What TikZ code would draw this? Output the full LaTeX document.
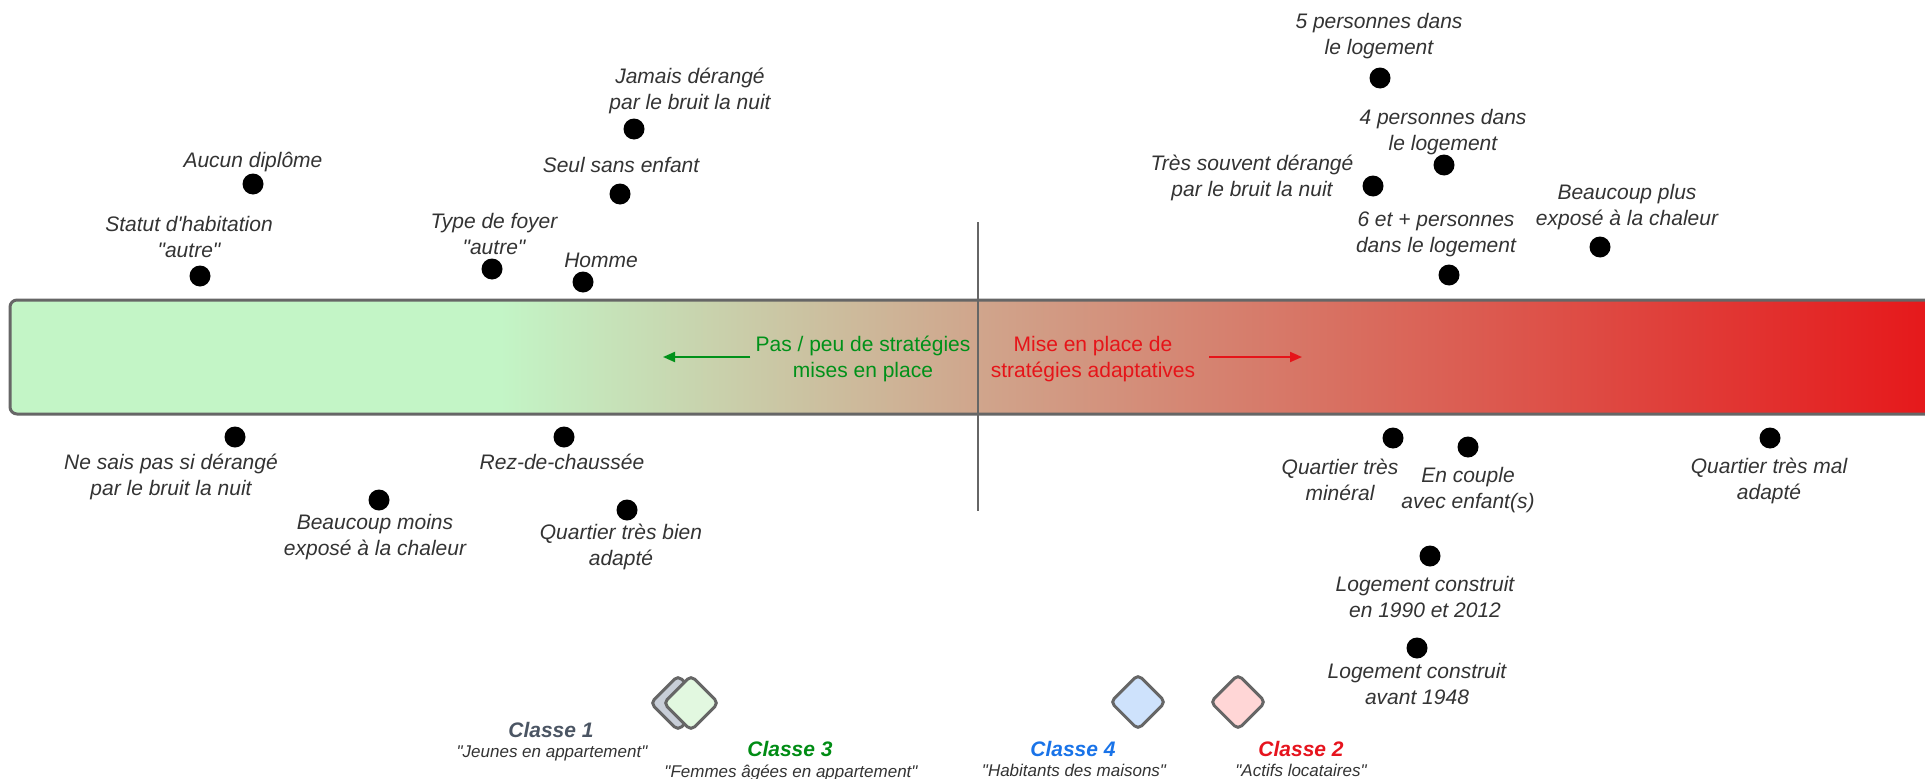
\documentclass[tikz,border=0pt]{standalone}
\usepackage{fontspec}
\setmainfont{Liberation Sans}
\usetikzlibrary{shapes.geometric,arrows.meta}
\definecolor{labelgray}{RGB}{51,51,51}
\definecolor{edgegray}{RGB}{102,102,102}
\definecolor{barg}{RGB}{195,245,198}
\definecolor{barmid}{RGB}{208,165,140}
\definecolor{barr}{RGB}{230,22,25}
\definecolor{txtgreen}{RGB}{0,145,25}
\definecolor{txtred}{RGB}{230,20,25}
\definecolor{c1text}{RGB}{75,85,99}
\definecolor{c3text}{RGB}{0,140,20}
\definecolor{c4text}{RGB}{25,115,232}
\definecolor{c2text}{RGB}{230,20,30}
\definecolor{c1fill}{RGB}{200,206,216}
\definecolor{c3fill}{RGB}{226,248,224}
\definecolor{c4fill}{RGB}{206,226,252}
\definecolor{c2fill}{RGB}{255,214,214}
\newcommand{\dq}{\textquotedbl}
\begin{document}
\begin{tikzpicture}[x=1pt,y=-1pt,
  lbl/.style={font=\itshape\fontsize{21}{26}\selectfont, text=labelgray, align=center, inner sep=0pt, yshift=-1.5pt},
  dotnode/.style={circle, fill=black, minimum size=21pt, inner sep=0pt},
  ctitle/.style={font=\bfseries\itshape\fontsize{21}{26}\selectfont, inner sep=0pt, yshift=-1.5pt},
  csub/.style={font=\itshape\fontsize{17}{20}\selectfont, text=labelgray, inner sep=0pt, yshift=-2.5pt},
  clsbox/.style={diamond, draw=edgegray, line width=3pt, rounded corners=5pt, minimum size=56pt, inner sep=0pt},
  bartext/.style={font=\fontsize{21}{26}\selectfont, align=center, inner sep=0pt, yshift=-1pt},
  axisline/.style={draw=edgegray, line width=2.5pt},
  dirarrow/.style={line width=2pt, -{Triangle[length=12pt,width=10pt]}}
]
\useasboundingbox (0,0) rectangle (1925,779);
\clip (0,0) rectangle (1925,779);

% gradient bar
\begin{scope}
  \clip[rounded corners=7pt] (10,300) rectangle (1945,414);
  \fill[barg] (0,290) rectangle (501,420);
  \shade[left color=barg, right color=barmid] (500,290) rectangle (979,420);
  \shade[left color=barmid, right color=barr] (978,290) rectangle (1945,420);
\end{scope}
\draw[edgegray, line width=3pt, rounded corners=7pt] (10,300) rectangle (1945,414);

% central axis
\coordinate (axtop) at (978,222);
\coordinate (axbot) at (978,511);
\draw[axisline] (axtop) -- (axbot);

% bar texts and arrows
\node[bartext, text=txtgreen] (peu) at (863,358) {Pas / peu de stratégies\\mises en place};
\node[bartext, text=txtred] (mise) at (1093,358) {Mise en place de\\stratégies adaptatives};
\coordinate (gs) at (750,357);
\coordinate (ge) at (663,357);
\coordinate (rs) at (1209,357);
\coordinate (re) at (1302,357);
\draw[dirarrow, draw=txtgreen, fill=txtgreen] (gs) -- (ge);
\draw[dirarrow, draw=txtred, fill=txtred] (rs) -- (re);

% labels above bar
\node[lbl] (l1) at (253,161) {Aucun diplôme};
\node[dotnode] (d1) at (253,184) {};
\node[lbl] (l2) at (189,235) {Statut d\textquotesingle habitation\\\dq autre\dq};
\node[dotnode] (d2) at (200,276) {};
\node[lbl] (l3) at (494,232) {Type de foyer\\\dq autre\dq};
\node[dotnode] (d3) at (492,269) {};
\node[lbl] (l4) at (601,259) {Homme};
\node[dotnode] (d4) at (583,282) {};
\node[lbl] (l5) at (621,163) {Seul sans enfant};
\node[dotnode] (d5) at (620,194) {};
\node[lbl] (l6) at (690,89) {Jamais dérangé\\par le bruit la nuit};
\node[dotnode] (d6) at (634,129) {};
\node[lbl] (l7) at (1379,35) {5 personnes dans\\le logement};
\node[dotnode] (d7) at (1380,78) {};
\node[lbl] (l8) at (1443,131) {4 personnes dans\\le logement};
\node[dotnode] (d8) at (1444,165) {};
\node[lbl] (l9) at (1252,176) {Très souvent dérangé\\par le bruit la nuit};
\node[dotnode] (d9) at (1373,186) {};
\node[lbl] (l10) at (1436,233) {6 et + personnes\\dans le logement};
\node[dotnode] (d10) at (1449,275) {};
\node[lbl] (l11) at (1627,206) {Beaucoup plus\\exposé à la chaleur};
\node[dotnode] (d11) at (1600,247) {};

% labels below bar
\node[dotnode] (d12) at (235,437) {};
\node[lbl] (l12) at (171,475) {Ne sais pas si dérangé\\par le bruit la nuit};
\node[dotnode] (d13) at (379,500) {};
\node[lbl] (l13) at (375,536) {Beaucoup moins\\exposé à la chaleur};
\node[dotnode] (d14) at (564,437) {};
\node[lbl] (l14) at (562,460) {Rez-de-chaussée};
\node[dotnode] (d15) at (627,510) {};
\node[lbl] (l15) at (621,545) {Quartier très bien\\adapté};
\node[dotnode] (d16) at (1393,438) {};
\node[lbl] (l16) at (1340,478) {Quartier très\\minéral};
\node[dotnode] (d17) at (1468,447) {};
\node[lbl] (l17) at (1468,489) {En couple\\avec enfant(s)};
\node[dotnode] (d18) at (1770,438) {};
\node[lbl] (l18) at (1769,479) {Quartier très mal\\adapté};
\node[dotnode] (d19) at (1430,556) {};
\node[lbl] (l19) at (1425,595) {Logement construit\\en 1990 et 2012};
\node[dotnode] (d20) at (1417,648) {};
\node[lbl] (l20) at (1417,682) {Logement construit\\avant 1948};

% classes
\node[clsbox, fill=c1fill] (k1) at (678,703) {};
\node[clsbox, fill=c3fill] (k3) at (691,703) {};
\node[clsbox, fill=c4fill] (k4) at (1138,702) {};
\node[clsbox, fill=c2fill] (k2) at (1238,702) {};

\node[ctitle, text=c1text] (t1) at (551,728) {Classe 1};
\node[csub] (s1) at (552,751) {\dq Jeunes en appartement\dq};
\node[ctitle, text=c3text] (t3) at (790,747) {Classe 3};
\node[csub] (s3) at (791,770) {\dq Femmes âgées en appartement\dq};
\node[ctitle, text=c4text] (t4) at (1073,747) {Classe 4};
\node[csub] (s4) at (1074,768) {\dq Habitants des maisons\dq};
\node[ctitle, text=c2text] (t2) at (1301,747) {Classe 2};
\node[csub] (s2) at (1301,768) {\dq Actifs locataires\dq};
\end{tikzpicture}
\end{document}
